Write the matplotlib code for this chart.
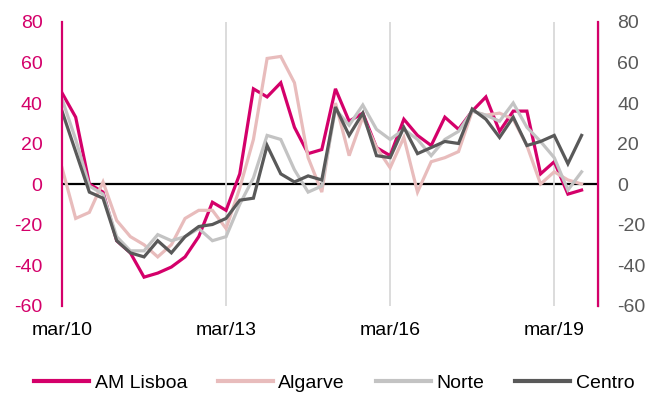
import matplotlib
matplotlib.use("Agg")
import matplotlib.pyplot as plt
import pandas as pd

# quarterly series, mar/10 .. set/19
quarters = pd.period_range("2010Q1", periods=39, freq="Q")

am_lisboa = [45, 33, 0, -4, -28, -34, -46, -44, -41, -36, -26, -9, -13, 5, 47, 43, 50,
             28, 15, 17, 47, 31, 35, 18, 14, 32, 24, 19, 33, 27, 36, 43, 26, 36, 36, 5,
             11, -5, -3]
algarve = [8, -17, -14, 1, -18, -26, -30, -36, -30, -17, -13, -13, -22, -2, 22, 62, 63,
           50, 13, -4, 40, 14, 33, 18, 8, 23, -4, 11, 13, 16, 36, 34, 35, 32, 19, 0,
           6, 2, 0]
norte = [42, 22, -1, -5, -26, -33, -33, -25, -28, -26, -22, -28, -26, -10, 3, 24, 22,
         7, -4, -1, 37, 29, 39, 27, 22, 27, 22, 14, 22, 26, 36, 34, 31, 40, 28, 21,
         13, -3, 6]
centro = [36, 16, -4, -7, -28, -34, -36, -28, -34, -26, -21, -20, -17, -8, -7, 19, 5,
          1, 4, 2, 38, 24, 35, 14, 13, 28, 15, 18, 21, 20, 37, 32, 23, 33, 19, 21,
          24, 10, 24]

series = [
    ("AM Lisboa", am_lisboa, "#D4006A"),
    ("Algarve", algarve, "#E8BCBC"),
    ("Norte", norte, "#C3C3C3"),
    ("Centro", centro, "#595959"),
]

MAGENTA = "#D4006A"
DARK = "#595959"

plt.rcParams["font.family"] = ["Liberation Sans", "DejaVu Sans"]
plt.rcParams["font.size"] = 14
plt.rcParams["axes.unicode_minus"] = False

fig = plt.figure(figsize=(6.62, 3.96), dpi=100)
ax = fig.add_axes([62 / 662, 1 - 305.5 / 396, 536 / 662, 283.5 / 396])

x = list(range(len(quarters)))
ax.axhline(0, color="black", lw=1.6, zorder=1)
for name, vals, col in series:
    ax.plot(x, vals, color=col, lw=2.3, label=name, zorder=2, solid_joinstyle="miter")

ax.set_xlim(0, 39.2)
ax.set_ylim(-60, 80)
ax.set_yticks(range(-60, 81, 20))

tick_pos = [0, 12, 24, 36]
ax.set_xticks(tick_pos)
ax.set_xticklabels(["mar/" + quarters[i].strftime("%y") for i in tick_pos])
ax.grid(axis="x", color="#D9D9D9", lw=1.3, zorder=0)
ax.tick_params(axis="x", length=0, pad=12, colors="black")
ax.tick_params(axis="y", length=0, pad=14, colors=MAGENTA)

for side in ["top", "bottom"]:
    ax.spines[side].set_visible(False)
ax.spines["left"].set_color(MAGENTA)
ax.spines["left"].set_linewidth(1.6)

ax2 = ax.twinx()
ax2.set_ylim(-60, 80)
ax2.set_yticks(range(-60, 81, 20))
ax2.tick_params(axis="y", length=0, pad=14, colors=DARK)
for side in ["top", "bottom", "left"]:
    ax2.spines[side].set_visible(False)
ax2.spines["right"].set_color(MAGENTA)
ax2.spines["right"].set_linewidth(1.6)

handles, labels = ax.get_legend_handles_labels()
leg = fig.legend(handles, labels, loc="center", bbox_to_anchor=(0.505, 1 - 383 / 396),
                 ncol=4, frameon=False, handlelength=2.8, handletextpad=0.3,
                 columnspacing=1.6, fontsize=14)
for line in leg.get_lines():
    line.set_linewidth(3)

fig.savefig("out.png", dpi=100)
